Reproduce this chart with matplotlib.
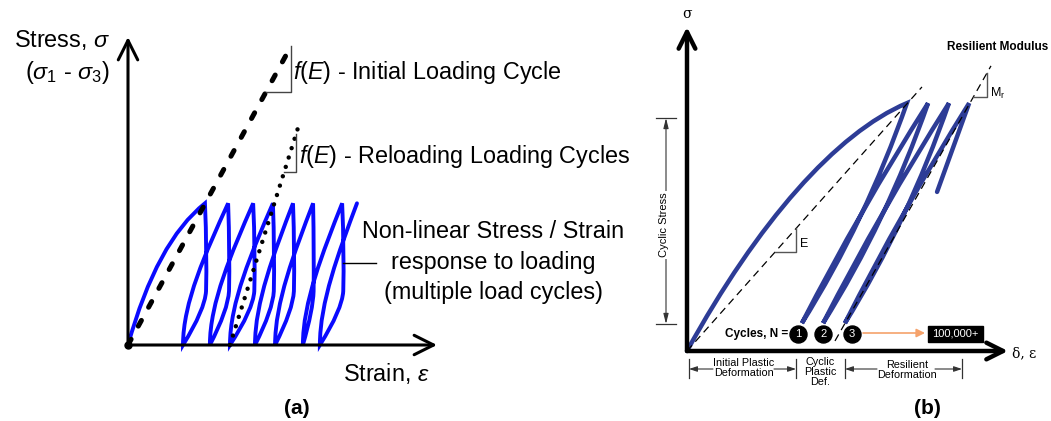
import matplotlib
matplotlib.use("Agg")
import matplotlib.pyplot as plt
from matplotlib.path import Path
from matplotlib.patches import PathPatch, Rectangle, FancyArrowPatch
from matplotlib.lines import Line2D
from matplotlib import transforms

# panel (a) - strain/stress in arbitrary units, axes run 0..10
a_peak_stress = 4.6
a_peak_x = [2.49, 3.24, 4.05, 4.69, 5.34, 5.99, 6.93]
a_bottom_x = [1.78, 2.65, 3.30, 4.11, 4.76, 5.66, 6.21]
a_last_x = 7.41
a_init_x, a_init_y = [0, 5.24], [0, 9.64]
a_reload_x, a_reload_y = [3.30, 5.57], [0, 7.27]

# panel (b)
b_peak_stress = 7.65
b_low_stress = 0.86
b_peak_x = [6.85, 7.51, 8.16, 8.79]
b_bottom_x = [3.58, 4.24, 4.92]
b_tail = (7.79, 4.91)
b_e_x, b_e_y = [0, 7.32], [0, 8.15]
b_mr_x, b_mr_y = [4.61, 9.47], [0.31, 8.80]
b_cycle_x = [3.46, 4.24, 5.14]
b_cycle_y = 0.52
b_cycle_labels = ["1", "2", "3"]

W, H = 1051, 421
plt.rcParams['font.family'] = ['Liberation Sans', 'DejaVu Sans']
plt.rcParams['mathtext.fontset'] = 'custom'
plt.rcParams['mathtext.rm'] = 'Liberation Sans'
plt.rcParams['mathtext.it'] = 'Liberation Sans:italic'

fig = plt.figure(figsize=(W / 100, H / 100), dpi=100)
fig.patch.set_facecolor('white')
# pixel coordinates (top-left origin) for the labels
pxT = transforms.Affine2D().scale(1 / W, -1 / H).translate(0, 1) + fig.transFigure


def txt(x, y, s, **kw):
    kw.setdefault('va', 'center')
    return fig.text(x, y, s, transform=pxT, **kw)


def pline(xs, ys, **kw):
    fig.add_artist(Line2D(xs, ys, transform=pxT, **kw))


def parrow(x0, y0, x1, y1, style, **kw):
    fig.add_artist(FancyArrowPatch((x0, y0), (x1, y1), transform=pxT, arrowstyle=style,
                                   shrinkA=0, shrinkB=0, **kw))


# ---------------- panel (a) ----------------
axA = fig.add_axes([128 / W, (H - 345) / H, 309 / W, 308 / H])
axA.set_xlim(0, 10)
axA.set_ylim(0, 10)
axA.axis('off')

for end in [(10, 0), (0, 10)]:
    axA.annotate('', xy=end, xytext=(0, 0), annotation_clip=False,
                 arrowprops=dict(arrowstyle='->,head_length=0.7,head_width=0.35',
                                 lw=2.2, color='black', shrinkA=0, shrinkB=0,
                                 mutation_scale=20))

Hs = a_peak_stress
verts = [(0, 0), (0.93, 3.36), (a_peak_x[0], Hs)]
codes = [Path.MOVETO, Path.CURVE3, Path.CURVE3]
next_peaks = a_peak_x[1:] + [a_last_x]
for xp, xb, xn in zip(a_peak_x, a_bottom_x, next_peaks):
    w = xp - xb
    # unloading: drops almost straight, then swings back to the bottom
    verts += [(xp + 0.1 * w, 0.65 * Hs), (xp + 0.05 * w, 0.38 * Hs)]
    codes += [Path.CURVE3] * 2
    verts += [(xp, 0.25 * Hs), (xb, 0)]
    codes += [Path.CURVE3] * 2
    # reloading: rises straight, then runs diagonally to the next peak
    w = xn - xb
    verts += [(xb, 0.3 * Hs), (xb + 0.5 * w, 0.65 * Hs), (xn, Hs)]
    codes += [Path.CURVE4] * 3
axA.add_patch(PathPatch(Path(verts, codes), fill=False, edgecolor='#0a0aff',
                        lw=2.8, capstyle='round', joinstyle='miter', clip_on=False))

axA.plot(a_init_x, a_init_y, color='black', lw=3.6, linestyle=(0, (1.3, 3.0)),
         dash_capstyle='round', clip_on=False)
axA.plot(a_reload_x, a_reload_y, color='black', lw=3.2, linestyle=(0, (0.01, 2.2)),
         dash_capstyle='round', clip_on=False)
axA.plot([0], [0], 'o', color='black', ms=5, clip_on=False)

# slope triangles
s1 = a_init_y[1] / a_init_x[1]
axA.plot([8.2 / s1, 5.28, 5.28], [8.2, 8.2, 5.28 * s1], color='#444444', lw=1, clip_on=False)
s2 = (a_reload_y[1] - a_reload_y[0]) / (a_reload_x[1] - a_reload_x[0])
xa = a_reload_x[0] + 5.62 / s2
axA.plot([xa, 5.44, 5.44], [5.62, 5.62, (5.44 - a_reload_x[0]) * s2], color='#444444',
         lw=1, clip_on=False)

fsA = 16.8
txt(110, 40, r'Stress, $\sigma$', ha='right', fontsize=fsA)
txt(110, 73, r'($\sigma_1$ - $\sigma_3$)', ha='right', fontsize=fsA)
txt(293, 72, r'$f$($E$) - Initial Loading Cycle', ha='left', fontsize=fsA)
txt(299, 157, r'$f$($E$) - Reloading Loading Cycles', ha='left', fontsize=fsA)
txt(493, 232, 'Non-linear Stress / Strain', ha='center', fontsize=fsA)
txt(493, 263, 'response to loading', ha='center', fontsize=fsA)
txt(493, 292, '(multiple load cycles)', ha='center', fontsize=fsA)
pline([343, 376], [263, 263], color='black', lw=1)
txt(343, 374, r'Strain, $\varepsilon$', ha='left', fontsize=fsA)
txt(297, 408, '(a)', ha='center', fontsize=15, fontweight='bold')

# ---------------- panel (b) ----------------
axB = fig.add_axes([687 / W, (H - 351) / H, 321 / W, 324 / H])
axB.set_xlim(0, 10)
axB.set_ylim(0, 10)
axB.axis('off')

for end in [(10, 0), (0, 10)]:
    axB.annotate('', xy=end, xytext=(0, 0), annotation_clip=False,
                 arrowprops=dict(arrowstyle='->,head_length=0.6,head_width=0.3',
                                 lw=3.2, color='black', shrinkA=0, shrinkB=0,
                                 mutation_scale=20))

axB.plot(b_e_x, b_e_y, color='black', lw=0.9, linestyle=(0, (6, 4)), clip_on=False)
axB.plot(b_mr_x, b_mr_y, color='black', lw=0.9, linestyle=(0, (6, 4)), clip_on=False)

Hp, Hl = b_peak_stress, b_low_stress
verts = [(0, 0), (2.2, 3.96), (4.65, 6.73), (b_peak_x[0], Hp)]
codes = [Path.MOVETO, Path.CURVE4, Path.CURVE4, Path.CURVE4]
for xp, xb, xn in zip(b_peak_x[:-1], b_bottom_x, b_peak_x[1:]):
    verts += [((xp + xb) / 2 + 0.35, (Hp + Hl) / 2 - 0.25), (xb, Hl)]
    codes += [Path.CURVE3] * 2
    verts += [((xb + xn) / 2 - 0.15, (Hl + Hp) / 2 + 0.1), (xn, Hp)]
    codes += [Path.CURVE3] * 2
verts += [b_tail]
codes += [Path.LINETO]
axB.add_patch(PathPatch(Path(verts, codes), fill=False, edgecolor='#2d3c96',
                        lw=3.2, capstyle='round', joinstyle='miter', clip_on=False))

# slope triangles
sE = b_e_y[1] / b_e_x[1]
axB.plot([3.06 / sE, 3.40, 3.40], [3.06, 3.06, 3.40 * sE], color='#555555', lw=1, clip_on=False)
sM = (b_mr_y[1] - b_mr_y[0]) / (b_mr_x[1] - b_mr_x[0])
xm = b_mr_x[0] + (7.84 - b_mr_y[0]) / sM
axB.plot([xm, 9.35, 9.35], [7.84, 7.84, b_mr_y[0] + (9.35 - b_mr_x[0]) * sM],
         color='#555555', lw=1, clip_on=False)

axB.scatter(b_cycle_x, [b_cycle_y] * len(b_cycle_x), s=150, color='black', zorder=5,
            clip_on=False)
for cx, lab in zip(b_cycle_x, b_cycle_labels):
    axB.text(cx, b_cycle_y, lab, color='white', fontsize=8, ha='center', va='center',
             zorder=6)

txt(687, 14, 'σ', ha='center', fontsize=10, family='DejaVu Serif')
txt(1012, 353, 'δ, ε', ha='left', fontsize=10, family='DejaVu Serif')
txt(1048, 47, 'Resilient Modulus', ha='right', fontsize=8.5, fontweight='bold')
txt(990, 93, r'M$_\mathrm{r}$', ha='left', fontsize=9)
txt(800, 244, 'E', ha='left', fontsize=9)
txt(788, 334, 'Cycles, N =', ha='right', fontsize=8.5, fontweight='bold')

parrow(863, 333, 925, 333, '-|>,head_length=0.5,head_width=0.25', color='#f5a26b',
       lw=1.2, mutation_scale=10)
fig.add_artist(Rectangle((928, 326), 55, 16, transform=pxT, color='black'))
txt(955.5, 334, '100,000+', ha='center', fontsize=8, color='white')

# cyclic stress dimension
pline([656, 676], [118, 118], color='#333333', lw=0.9)
pline([656, 676], [324, 324], color='#333333', lw=0.9)
parrow(666, 118, 666, 324, '<|-|>,head_length=0.6,head_width=0.15', color='#333333',
       lw=0.8, mutation_scale=10)
txt(664, 225, 'Cyclic Stress', ha='center', rotation=90, fontsize=8,
    bbox=dict(facecolor='white', edgecolor='none', pad=1.5))

# deformation ranges under the x axis
for xt in [689, 796, 845, 962]:
    pline([xt, xt], [359, 378], color='#333333', lw=0.9)
for x0, x1 in [(713, 689), (774, 796), (877, 845), (935, 962)]:
    parrow(x0, 369, x1, 369, '-|>,head_length=0.6,head_width=0.2', color='#333333',
           lw=0.8, mutation_scale=8)
txt(744, 368, 'Initial Plastic\nDeformation', ha='center', fontsize=7.8, linespacing=0.95)
txt(820, 372, 'Cyclic\nPlastic\nDef.', ha='center', fontsize=7.8, linespacing=0.95)
txt(907, 370, 'Resilient\nDeformation', ha='center', fontsize=7.8, linespacing=0.95)
txt(927, 408, '(b)', ha='center', fontsize=15, fontweight='bold')

fig.savefig('out.png', dpi=100)
